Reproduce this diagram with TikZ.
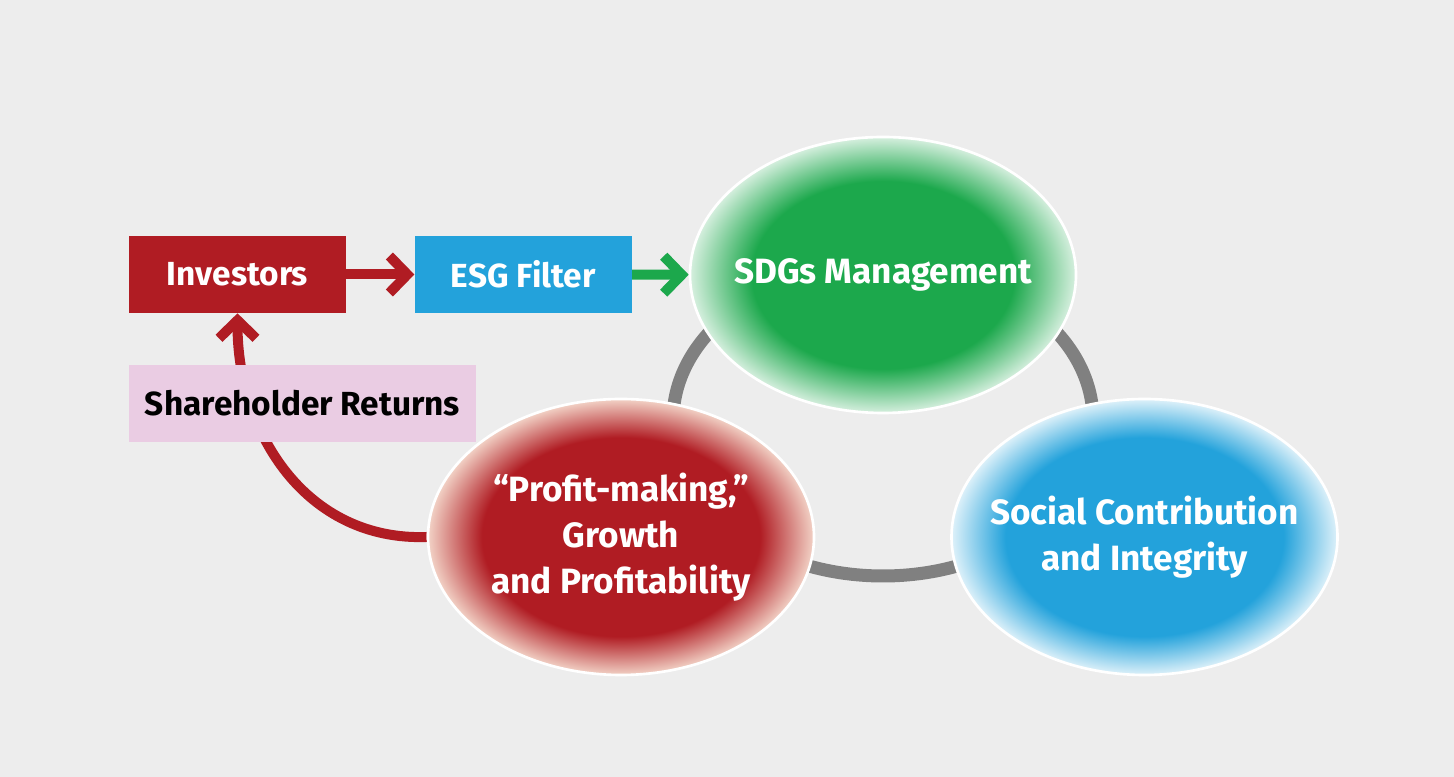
\documentclass[tikz,border=0pt]{standalone}
\usepackage{fontspec}
\setmainfont{Fira Sans}
\usetikzlibrary{positioning, shapes, arrows.meta}
\usepackage{xcolor}

\definecolor{bgGray}{RGB}{237,237,237}
\definecolor{invRed}{RGB}{176,28,35}
\definecolor{esgBlue}{RGB}{35,162,219}
\definecolor{sdgGreen}{RGB}{28,168,76}
\definecolor{retPink}{RGB}{234,204,227}
\definecolor{ringGray}{RGB}{128,128,128}
\definecolor{profEdge}{RGB}{242,210,198}

% 楕円のぼかし
\pgfdeclareradialshading{glowGreen}{\pgfpoint{0bp}{0bp}}{color(0bp)=(sdgGreen); color(17bp)=(sdgGreen); color(25bp)=(sdgGreen!18!white); color(50bp)=(sdgGreen!18!white)}
\pgfdeclareradialshading{glowRed}{\pgfpoint{0bp}{0bp}}{color(0bp)=(invRed); color(18bp)=(invRed); color(25bp)=(profEdge); color(50bp)=(profEdge)}
\pgfdeclareradialshading{glowBlue}{\pgfpoint{0bp}{0bp}}{color(0bp)=(esgBlue); color(18bp)=(esgBlue); color(25bp)=(esgBlue!15!white); color(50bp)=(esgBlue!15!white)}

\pgfdeclarelayer{bg}
\pgfdeclarelayer{links}
\pgfsetlayers{bg,links,main}

\begin{document}
\begin{tikzpicture}[
    box/.style={minimum width=4.34cm, minimum height=1.54cm, inner sep=0pt,
      text=white, font=\bfseries\fontsize{19}{24}\selectfont},
    bubble/.style={ellipse, minimum width=7.72cm, minimum height=5.52cm, inner sep=0pt,
      draw=white, line width=1.5pt},
    bubbletext/.style={text=white, align=center, inner sep=0pt,
      font=\bfseries\fontsize{20}{26}\selectfont},
    link/.style={line width=0.2cm, -{Straight Barb[length=0.36cm, width=0.74cm]}}
  ]
  % 背景
  \useasboundingbox (0,0) rectangle (29.08,15.54);
  \begin{pgfonlayer}{bg}
    \fill[bgGray] (0,0) rectangle (29.08,15.54);
  \end{pgfonlayer}

  % 灰色の輪
  \coordinate (ringC) at (17.66,7.14);
  \draw[ringGray, line width=0.26cm] (ringC) ellipse [x radius=4.2cm, y radius=3.12cm];

  % 四角のボックス
  \node[box, fill=invRed] (investors) at (4.75,10.05) {Investors};
  \node[box, fill=esgBlue, right=1.36cm of investors] (esg) {ESG Filter};
  \node[box, fill=retPink, text=black, minimum width=6.94cm,
    below=1.02cm of investors.south west, anchor=north west] (returns) {Shareholder Returns};

  % 三つの楕円
  \node[bubble, shade, shading=glowGreen, label={[bubbletext]center:SDGs Management}]
    (sdgs) at (17.66,10.04) {};
  \node[bubble, shade, shading=glowRed,
    label={[bubbletext]center:{“Profit-making,”\\Growth\\and Profitability}}]
    (profit) at (12.42,4.8) {};
  \node[bubble, shade, shading=glowBlue,
    label={[bubbletext]center:{Social Contribution\\and Integrity}}]
    (social) at (22.89,4.8) {};

  % 矢印
  \draw[link, invRed] (investors) -- (esg);
  \draw[link, sdgGreen] (esg) -- (sdgs);
  \begin{pgfonlayer}{links}
    \draw[link, invRed] (profit.west) to[out=182, in=-90, looseness=1.05] (investors.south);
  \end{pgfonlayer}
\end{tikzpicture}
\end{document}
